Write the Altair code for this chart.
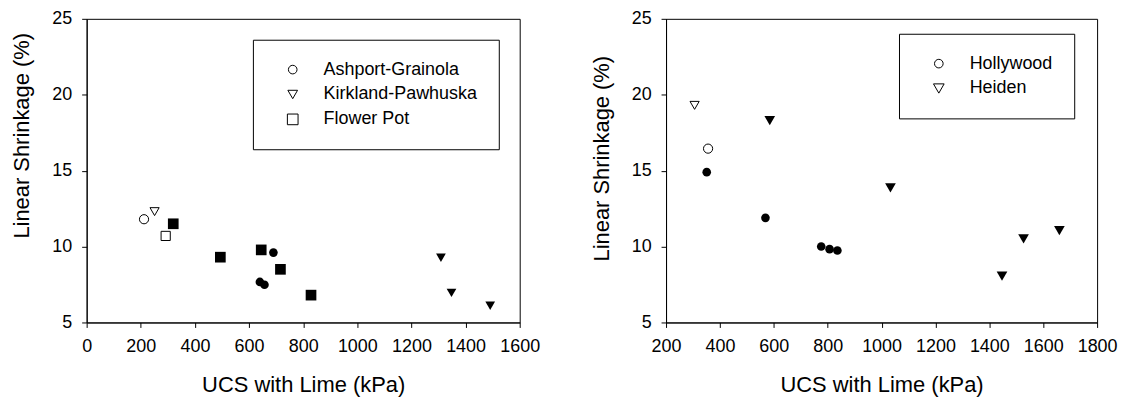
import altair as alt
import pandas as pd

# ---------------- Left panel data ----------------
left_series = ["Ashport-Grainola", "Kirkland-Pawhuska", "Flower Pot"]
left_shapes = ["circle", "triangle-down", "square"]
left_sizes = [75, 115, 95]

ag_open_x = [212]
ag_open_y = [11.8]
kp_open_x = [251]
kp_open_y = [12.3]
fp_open_x = [292]
fp_open_y = [10.7]

ag_fill_x = [690, 640, 657]
ag_fill_y = [9.6, 7.67, 7.48]
kp_fill_x = [1309, 1348, 1491]
kp_fill_y = [9.26, 6.95, 6.1]
fp_fill_x = [320, 494, 645, 716, 829]
fp_fill_y = [11.5, 9.3, 9.78, 8.5, 6.8]

# ---------------- Right panel data ----------------
right_series = ["Hollywood", "Heiden"]
right_shapes = ["circle", "triangle-down"]
right_sizes = [75, 115]

hw_open_x = [356]
hw_open_y = [16.45]
hd_open_x = [306]
hd_open_y = [19.3]

hw_fill_x = [351, 569, 776, 807, 836]
hw_fill_y = [14.9, 11.89, 10.0, 9.83, 9.74]
hd_fill_x = [585, 1033, 1447, 1527, 1660]
hd_fill_y = [18.3, 13.87, 8.06, 10.5, 11.05]

left_x_ticks = [0, 200, 400, 600, 800, 1000, 1200, 1400, 1600]
right_x_ticks = [200, 400, 600, 800, 1000, 1200, 1400, 1600, 1800]
y_ticks = [5, 10, 15, 20, 25]


def rows(name, xs, ys, filled):
    return [{"ucs": a, "ls": b, "series": name, "filled": filled} for a, b in zip(xs, ys)]


left_df = pd.DataFrame(
    rows("Ashport-Grainola", ag_open_x, ag_open_y, False)
    + rows("Kirkland-Pawhuska", kp_open_x, kp_open_y, False)
    + rows("Flower Pot", fp_open_x, fp_open_y, False)
    + rows("Ashport-Grainola", ag_fill_x, ag_fill_y, True)
    + rows("Kirkland-Pawhuska", kp_fill_x, kp_fill_y, True)
    + rows("Flower Pot", fp_fill_x, fp_fill_y, True)
)
right_df = pd.DataFrame(
    rows("Hollywood", hw_open_x, hw_open_y, False)
    + rows("Heiden", hd_open_x, hd_open_y, False)
    + rows("Hollywood", hw_fill_x, hw_fill_y, True)
    + rows("Heiden", hd_fill_x, hd_fill_y, True)
)

FONT = "Liberation Sans"


def panel(df, series, shapes, sizes, xdom, xticks, lx, ly, title_y, width, n_pad):
    pad = "\u00a0" * n_pad
    x = alt.X(
        "ucs:Q",
        scale=alt.Scale(domain=xdom, nice=False, zero=False),
        axis=alt.Axis(values=xticks, title="UCS with Lime (kPa)", labelPadding=10,
                      titlePadding=19, format="d", labelFlush=False),
    )
    y = alt.Y(
        "ls:Q",
        scale=alt.Scale(domain=[5, 25], nice=False, zero=False),
        axis=alt.Axis(values=y_ticks, title="Linear Shrinkage (%)", labelPadding=10,
                      titlePadding=18, titleY=title_y, labelFlush=False),
    )
    shape_scale = alt.Scale(domain=series, range=shapes)
    open_layer = (
        alt.Chart(df)
        .transform_filter("!datum.filled")
        .mark_point(filled=False, color="black", strokeWidth=1, opacity=1, size=85)
        .encode(
            x=x,
            y=y,
            shape=alt.Shape(
                "series:N",
                scale=shape_scale,
                legend=alt.Legend(
                    title=None,
                    orient="none",
                    legendX=lx,
                    legendY=ly,
                    strokeColor="black",
                    fillColor="white",
                    padding=21,
                    labelFont=FONT,
                    labelFontSize=18,
                    labelColor="black",
                    labelLimit=400,
                    labelExpr="datum.label + '" + pad + "'",
                    symbolSize=55,
                    symbolStrokeWidth=1,
                    symbolStrokeColor="black",
                    symbolOffset=10,
                    labelOffset=22,
                    rowPadding=7,
                ),
            ),
        )
    )
    filled_layer = (
        alt.Chart(df)
        .transform_filter("datum.filled")
        .mark_point(filled=True, color="black", opacity=1)
        .encode(
            x=x,
            y=y,
            size=alt.Size("series:N", scale=alt.Scale(domain=series, range=sizes), legend=None),
            shape=alt.Shape("series:N", scale=shape_scale, legend=None),
        )
    )
    return alt.layer(open_layer, filled_layer).properties(width=width, height=305)


left = panel(left_df, left_series, left_shapes, left_sizes, [0, 1600], left_x_ticks,
             167, 21, 117, 435, 7)
right = panel(right_df, right_series, right_shapes, right_sizes, [200, 1800], right_x_ticks,
              234, 15, 140, 433, 5)

chart = (
    alt.hconcat(left, right, spacing=49)
    .resolve_scale(shape="independent", size="independent")
    .resolve_legend(shape="independent")
    .configure(font=FONT, padding={"left": 2, "top": 0, "right": 2, "bottom": 0},
               background="white")
    .configure_view(stroke="black", strokeWidth=1)
    .configure_axis(
        domainColor="black",
        tickColor="black",
        labelColor="black",
        titleColor="black",
        labelFont=FONT,
        titleFont=FONT,
        labelFontSize=18,
        titleFontSize=22,
        titleFontWeight="normal",
        tickSize=5,
        grid=False,
        domainWidth=1,
        tickWidth=1,
        labelOverlap=False,
    )
)

chart.save("out.html", embed_options={"renderer": "svg", "actions": False})
